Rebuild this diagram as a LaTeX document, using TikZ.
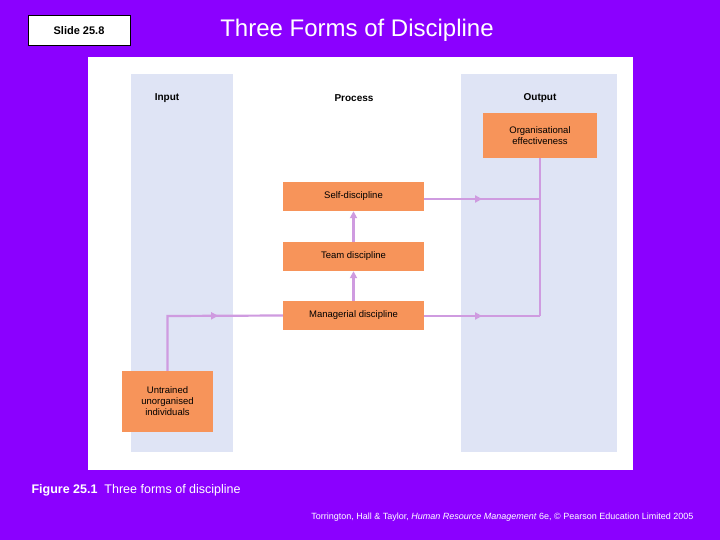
\documentclass[tikz,border=0pt]{standalone}
\usepackage{fontspec}
\setmainfont{Liberation Sans}
\usetikzlibrary{arrows.meta,decorations.markings}
\definecolor{bgp}{HTML}{8B00FF}
\definecolor{col}{HTML}{DFE4F5}
\definecolor{org}{HTML}{F7945A}
\definecolor{lin}{HTML}{CF9BE0}
\tikzset{
  box/.style={fill=org,draw=none,align=center,font=\fontsize{9.5}{11}\selectfont,inner sep=0pt},
  con/.style={draw=lin,line width=2.2pt},
  midarr/.style={postaction={decorate},decoration={markings,mark=at position #1 with {\arrow{Triangle[width=7pt,length=7pt]}}}},
  hdr/.style={font=\bfseries\fontsize{10}{12}\selectfont}
}
\begin{document}
\begin{tikzpicture}[x=1pt,y=-1pt]
\fill[bgp] (0,0) rectangle (720,540);
\useasboundingbox (0,0) rectangle (720,540);
\node[draw=black,fill=white,line width=1pt,minimum width=102pt,minimum height=30pt,inner sep=0pt,font=\bfseries\fontsize{11}{13}\selectfont] (slide) at (79,31) {Slide 25.8};
\node[text=white,font=\fontsize{24}{28}\selectfont,anchor=center] (title) at (357,30) {Three Forms of Discipline};
\fill[white] (88,57) rectangle (633,470);
\fill[col] (131,74) rectangle (233,452);
\fill[col] (461,74) rectangle (617,452);
\node[hdr] (hin) at (167,98) {Input};
\node[hdr] (hpr) at (354,98) {Process};
\node[hdr] (hout) at (540,98) {Output};
\node[box,minimum width=114pt,minimum height=45pt] (org) at (540,135.5) {Organisational\\effectiveness};
\node[box,minimum width=141pt,minimum height=29pt] (self) at (353.5,196.5) {Self-discipline};
\node[box,minimum width=141pt,minimum height=29pt] (team) at (353.5,256.5) {Team discipline};
\node[box,minimum width=141pt,minimum height=29pt] (man) at (353.5,315.5) {Managerial discipline};
\node[box,minimum width=91pt,minimum height=61pt] (unt) at (167.5,401.5) {Untrained\\unorganised\\individuals};
\coordinate (c1) at (167.5,316);
\coordinate (c2) at (540,199);
\coordinate (c3) at (540,316);
\draw[con,midarr=0.62] (unt.north) -- (c1) -- (man.west);
\draw[con,-{Triangle[width=7pt,length=7pt]}] (man.north) -- (team.south);
\draw[con,-{Triangle[width=7pt,length=7pt]}] (team.north) -- (self.south);
\draw[con,midarr=0.5] (self.east |- c2) -- (c2);
\draw[con,midarr=0.5] (man.east |- c3) -- (c3);
\draw[con] (org.south) -- (c3);
\node[text=white,anchor=west,font=\fontsize{12.5}{15}\selectfont] (cap) at (28,490) {\textbf{Figure 25.1}\ \ Three forms of discipline};
\node[text=white,anchor=east,font=\fontsize{9}{11}\selectfont] (cred) at (697,517) {Torrington, Hall \& Taylor, \textit{Human Resource Management} 6e, © Pearson Education Limited 2005};
\end{tikzpicture}
\end{document}
